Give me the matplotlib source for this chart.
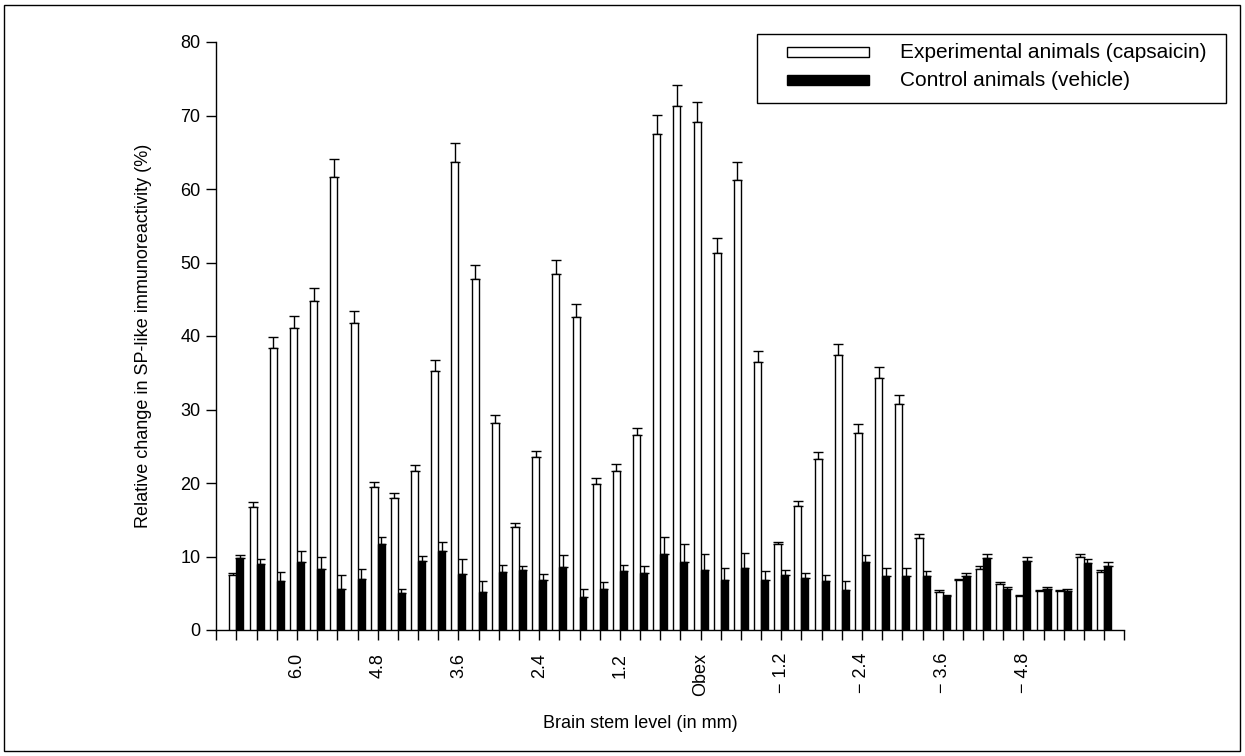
import numpy as np
import matplotlib.pyplot as plt
from matplotlib.patches import Rectangle
plt.switch_backend('agg')

plt.rcParams['font.family'] = ['Liberation Sans', 'DejaVu Sans']

# brain stem level (mm) of each bar pair, rostral -> caudal
levels = [6.9, 6.6, 6.3, 6.0, 5.7, 5.4, 5.1, 4.8, 4.5, 4.2, 3.9,
          3.6, 3.3, 3.0, 2.7, 2.4, 2.1, 1.8, 1.5, 1.2, 0.9, 0.6, 0.3,
          0.0, -0.3, -0.6, -0.9, -1.2, -1.5, -1.8, -2.1, -2.4, -2.7, -3.0, -3.3,
          -3.6, -3.9, -4.2, -4.5, -4.8, -5.1, -5.4, -5.7, -6.0]

# experimental animals (capsaicin)
capsaicin = [7.5, 16.8, 38.3, 41.1, 44.8, 61.6, 41.8, 19.4, 17.9, 21.6, 35.3,
             63.7, 47.7, 28.1, 14.0, 23.5, 48.4, 42.6, 19.8, 21.7, 26.5, 67.5, 71.3,
             69.1, 51.3, 61.2, 36.5, 11.7, 16.9, 23.2, 37.4, 26.8, 34.3, 30.8, 12.5,
             5.2, 6.8, 8.3, 6.3, 4.6, 5.3, 5.3, 10.0, 7.9]
capsaicin_err = [0.3, 0.6, 1.6, 1.6, 1.7, 2.5, 1.6, 0.7, 0.8, 0.8, 1.5,
                 2.6, 1.9, 1.1, 0.6, 0.9, 2.0, 1.7, 0.9, 0.9, 1.0, 2.6, 2.9,
                 2.8, 2.1, 2.5, 1.5, 0.3, 0.7, 1.0, 1.5, 1.2, 1.5, 1.2, 0.5,
                 0.2, 0.2, 0.4, 0.2, 0.1, 0.2, 0.2, 0.3, 0.3]

# control animals (vehicle)
vehicle = [9.8, 9.0, 6.7, 9.3, 8.3, 5.6, 7.0, 11.7, 5.0, 9.4, 10.7,
           7.6, 5.2, 7.9, 8.2, 6.8, 8.6, 4.5, 5.6, 8.0, 7.7, 10.3, 9.3,
           8.2, 6.8, 8.4, 6.8, 7.5, 7.1, 6.7, 5.4, 9.3, 7.4, 7.4, 7.4,
           4.6, 7.4, 9.8, 5.6, 9.4, 5.6, 5.3, 9.1, 8.7]
vehicle_err = [0.4, 0.7, 1.2, 1.4, 1.6, 1.9, 1.3, 0.9, 0.6, 0.7, 1.3,
               2.0, 1.5, 1.0, 0.5, 0.8, 1.6, 1.1, 0.9, 0.8, 1.0, 2.3, 2.4,
               2.2, 1.6, 2.1, 1.2, 0.7, 0.7, 0.8, 1.2, 0.9, 1.0, 1.0, 0.6,
               0.2, 0.4, 0.5, 0.3, 0.5, 0.3, 0.3, 0.5, 0.5]

tick_levels = [7.2] + levels + [-6.3]
tick_names = {6.0: '6.0', 4.8: '4.8', 3.6: '3.6', 2.4: '2.4', 1.2: '1.2', 0.0: 'Obex',
              -1.2: '\u2212 1.2', -2.4: '\u2212 2.4', -3.6: '\u2212 3.6', -4.8: '\u2212 4.8'}
series_names = ['Experimental animals (capsaicin)', 'Control animals (vehicle)']

W, H = 1245, 756
fig = plt.figure(figsize=(W / 100, H / 100), dpi=100)
ax = fig.add_axes([216.3 / W, 1 - 630 / H, 908 / W, 588 / H])

x = np.array(levels)
w = 0.104
zeros = np.zeros(len(levels))

ax.bar(x + w / 2, capsaicin, width=w, color='white', edgecolor='black', linewidth=1, zorder=3)
ax.bar(x - w / 2, vehicle, width=w, color='black', edgecolor='black', linewidth=1, zorder=3)
ax.errorbar(x + w / 2, capsaicin, yerr=[zeros, capsaicin_err], fmt='none', ecolor='black',
            elinewidth=1, capsize=3.4, capthick=1, zorder=2)
ax.errorbar(x - w / 2, vehicle, yerr=[zeros, vehicle_err], fmt='none', ecolor='black',
            elinewidth=1, capsize=3.4, capthick=1, zorder=2)

ax.set_xlim(7.2, -6.3)
ax.set_ylim(0, 80)
ax.set_yticks(range(0, 81, 10))
ax.set_xticks(tick_levels)
ax.set_xticklabels([tick_names.get(round(t, 1), '') for t in tick_levels], rotation=90)

for side in ['top', 'right']:
    ax.spines[side].set_visible(False)
for side in ['left', 'bottom']:
    ax.spines[side].set_linewidth(1)
ax.tick_params(axis='x', length=7.5, width=1, labelsize=13, pad=9)
ax.tick_params(axis='y', length=7.5, width=1, labelsize=13, pad=4)

ax.set_ylabel('Relative change in SP-like immunoreactivity (%)', fontsize=13, labelpad=20)
ax.set_xlabel('Brain stem level (in mm)', fontsize=13)
ax.xaxis.set_label_coords(0.467, -0.145)

# legend box drawn by hand (handle indented inside the frame as in the original)
def fpx(px, py):
    return px / W, 1 - py / H

fig.patches.append(Rectangle(fpx(757, 103), 469 / W, 69 / H, transform=fig.transFigure,
                             fill=False, edgecolor='black', linewidth=1))
for row, (fc, name) in enumerate(zip(['white', 'black'], series_names)):
    cy = 52 + 28 * row
    fig.patches.append(Rectangle(fpx(787, cy + 5), 82 / W, 10 / H, transform=fig.transFigure,
                                 facecolor=fc, edgecolor='black', linewidth=1))
    fig.text(*fpx(900, cy), name, fontsize=15, va='center', ha='left')

# outer frame
fig.patches.append(Rectangle((4 / W, 5 / H), 1236 / W, 746 / H,
                             transform=fig.transFigure, fill=False, edgecolor='black', linewidth=1))

fig.savefig('out.png', dpi=100, facecolor='white')
